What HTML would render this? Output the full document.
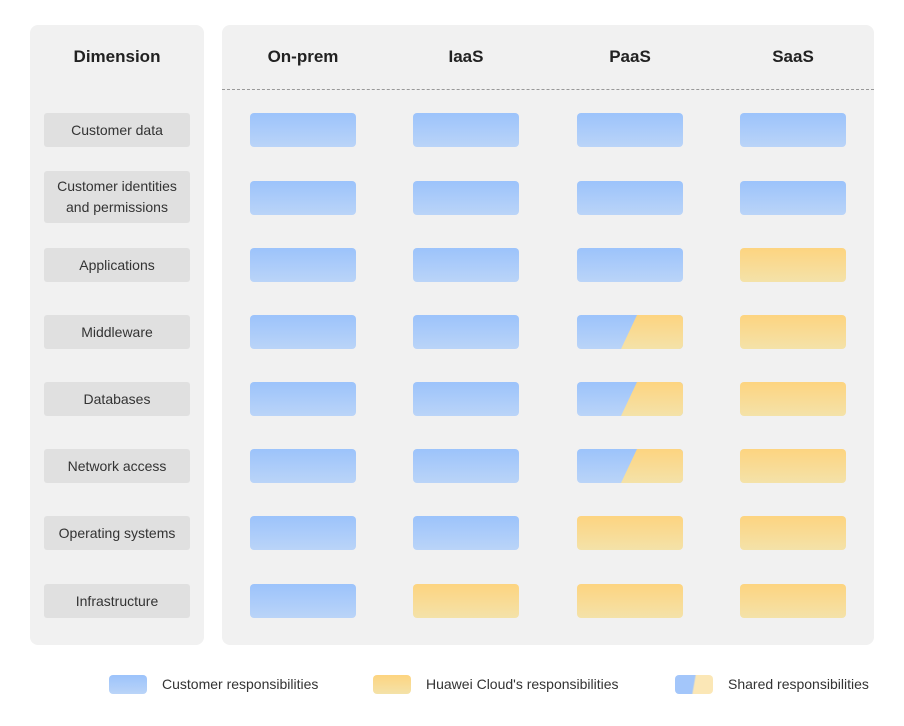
<!DOCTYPE html><html><head><style>
body{margin:0;width:904px;height:726px;background:#fff;font-family:"Liberation Sans","DejaVu Sans",sans-serif;position:relative;overflow:hidden}
.p{position:absolute;background:#f1f1f1;border-radius:8px}
.h{position:absolute;top:47px;font-weight:bold;font-size:17px;color:#222;text-align:center;width:130px}
.l{position:absolute;left:44px;width:146px;height:34px;background:#e0e0e0;border-radius:3px;font-size:14px;color:#333;display:flex;align-items:center;justify-content:center;text-align:center;line-height:21px}
.c{position:absolute;width:106px;height:34px;border-radius:4px}
.b{background:linear-gradient(#9cc3fb,#bad4f8)}
.y{background:linear-gradient(#fdd480,#f4e2a9)}
.s{background:linear-gradient(#9cc3fb,#bad4f8);overflow:hidden}
.s::after{content:"";position:absolute;inset:0;background:linear-gradient(#fdd480,#f4e2a9);clip-path:polygon(60px 0,106px 0,106px 34px,44px 34px)}
.lg{position:absolute;top:675px;width:38px;height:19px;border-radius:4px}
.lt{position:absolute;top:676px;font-size:14px;color:#333}
</style></head><body>
<div class="p" style="left:30px;top:25px;width:174px;height:620px"></div>
<div class="p" style="left:222px;top:25px;width:652px;height:620px"></div>
<div style="position:absolute;left:222px;top:89px;width:652px;border-top:1px dashed #999"></div>
<div class="h" style="left:52px">Dimension</div>
<div class="h" style="left:238px">On-prem</div>
<div class="h" style="left:401px">IaaS</div>
<div class="h" style="left:565px">PaaS</div>
<div class="h" style="left:728px">SaaS</div>
<div class="l" style="top:113px">Customer data</div>
<div class="l" style="top:171px;height:52px">Customer identities<br>and permissions</div>
<div class="l" style="top:248px">Applications</div>
<div class="l" style="top:315px">Middleware</div>
<div class="l" style="top:382px">Databases</div>
<div class="l" style="top:449px">Network access</div>
<div class="l" style="top:516px">Operating systems</div>
<div class="l" style="top:584px">Infrastructure</div>
<div class="c b" style="left:250px;top:113px"></div><div class="c b" style="left:413px;top:113px"></div><div class="c b" style="left:577px;top:113px"></div><div class="c b" style="left:740px;top:113px"></div>
<div class="c b" style="left:250px;top:181px"></div><div class="c b" style="left:413px;top:181px"></div><div class="c b" style="left:577px;top:181px"></div><div class="c b" style="left:740px;top:181px"></div>
<div class="c b" style="left:250px;top:248px"></div><div class="c b" style="left:413px;top:248px"></div><div class="c b" style="left:577px;top:248px"></div><div class="c y" style="left:740px;top:248px"></div>
<div class="c b" style="left:250px;top:315px"></div><div class="c b" style="left:413px;top:315px"></div><div class="c s" style="left:577px;top:315px"></div><div class="c y" style="left:740px;top:315px"></div>
<div class="c b" style="left:250px;top:382px"></div><div class="c b" style="left:413px;top:382px"></div><div class="c s" style="left:577px;top:382px"></div><div class="c y" style="left:740px;top:382px"></div>
<div class="c b" style="left:250px;top:449px"></div><div class="c b" style="left:413px;top:449px"></div><div class="c s" style="left:577px;top:449px"></div><div class="c y" style="left:740px;top:449px"></div>
<div class="c b" style="left:250px;top:516px"></div><div class="c b" style="left:413px;top:516px"></div><div class="c y" style="left:577px;top:516px"></div><div class="c y" style="left:740px;top:516px"></div>
<div class="c b" style="left:250px;top:584px"></div><div class="c y" style="left:413px;top:584px"></div><div class="c y" style="left:577px;top:584px"></div><div class="c y" style="left:740px;top:584px"></div>
<div class="lg b" style="left:109px"></div><div class="lt" style="left:162px">Customer responsibilities</div>
<div class="lg y" style="left:373px"></div><div class="lt" style="left:426px">Huawei Cloud's responsibilities</div>
<div class="lg" style="left:675px;overflow:hidden;background:linear-gradient(100deg,#a3c6fa 0,#a3c6fa 48%,#fbe7b6 52%,#fbe7b6 100%)"></div><div class="lt" style="left:728px">Shared responsibilities</div>
</body></html>
